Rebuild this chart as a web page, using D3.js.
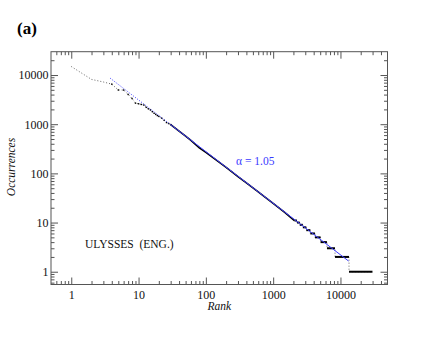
<!DOCTYPE html>
<html>
<head>
<meta charset="utf-8">
<script src="https://cdn.jsdelivr.net/npm/d3@7"></script>
<style>
  body { margin: 0; background: #fff; }
</style>
</head>
<body>
<div id="chart"></div>
<script>
// ---------------  DATA  ---------------
// top ranks, read point by point
const lowRanks = [1, 2, 3, 4, 5, 6, 7, 8, 9, 10, 11, 12, 13, 14, 15, 16, 17, 18, 19, 20, 22, 24, 26, 28, 30];
const lowOcc = [14900, 8140, 7220, 6520, 4960, 4950, 4030, 3330, 2680, 2600, 2520, 2450, 2200, 2050, 1950,
                1800, 1670, 1580, 1500, 1440, 1330, 1200, 1080, 1030, 984];
// middle part, dense enough to look like a solid line
const midRanks = [30, 40, 50, 60, 80, 100, 150, 200, 300, 400, 600, 800, 1000, 1500, 2070];
const midOcc = [984, 720, 570, 468, 330, 268, 178, 132, 86, 64, 42, 31, 24.5, 16, 11];
// the tail: plateaus of equal occurrences
const stepOcc = [11, 10, 9, 8, 7, 6, 5, 4, 3, 2, 1];
const stepStart = [2070, 2260, 2483, 2760, 3110, 3565, 4180, 5060, 6300, 8300, 13400];
const stepEnd = [2260, 2483, 2760, 3110, 3565, 4180, 5060, 6300, 8300, 13400, 29900];
// fitted power law (alpha = 1.05)
const fitRanks = [3.8, 30, 13200];
const fitOcc = [8600, 980, 1.65];

const xMajor = [1, 10, 100, 1000, 10000];
const yMajor = [1, 10, 100, 1000, 10000];

// ---------------  SIZES  ---------------
const w = 436, h = 337;
const padLeft = 51, padRight = 387.5, padTop = 51.7, padBottom = 284.5;
const serif = "Liberation Serif";

const x = d3.scaleLog().domain([0.5, 50000]).range([padLeft, padRight]);
const y = d3.scaleLog().domain([0.55, 29800]).range([padBottom, padTop]);

// minor ticks 2..9 of each decade inside the domain
function minors(scale) {
  const [a, b] = scale.domain();
  const out = [];
  for (let e = -1; e <= 5; e++) {
    for (let m = 2; m <= 9; m++) {
      const v = m * Math.pow(10, e);
      if (v > a && v < b) out.push(v);
    }
  }
  return out;
}

const svg = d3.select("#chart").append("svg").attr("width", w).attr("height", h)
  .attr("font-family", serif);

// ---------------  AXES  ---------------
const axisColor = "#555";
const fmt = d3.format("d");

function addAxis(gen, tx, ty, vals, size, labels) {
  const g = svg.append("g")
    .attr("transform", "translate(" + tx + "," + ty + ")")
    .call(gen.tickValues(vals).tickSizeInner(-size).tickSizeOuter(0)
      .tickPadding(labels ? 4 : 0).tickFormat(labels ? fmt : () => ""));
  g.attr("font-family", serif).attr("font-size", 12);
  g.select(".domain").remove();
  g.selectAll("line").attr("stroke", axisColor);
  g.selectAll("text").attr("fill", "#111");
  return g;
}

addAxis(d3.axisBottom(x), 0, padBottom, xMajor, 7, true).selectAll("text").attr("y", 6);
addAxis(d3.axisBottom(x), 0, padBottom, minors(x), 3.5, false);
addAxis(d3.axisTop(x), 0, padTop, xMajor, 7, false);
addAxis(d3.axisTop(x), 0, padTop, minors(x), 3.5, false);
addAxis(d3.axisLeft(y), padLeft, 0, yMajor, 7, true).selectAll("text").attr("x", -2.5);
addAxis(d3.axisLeft(y), padLeft, 0, minors(y), 3.5, false);
addAxis(d3.axisRight(y), padRight, 0, yMajor, 7, false);
addAxis(d3.axisRight(y), padRight, 0, minors(y), 3.5, false);

svg.append("rect")
  .attr("x", padLeft).attr("y", padTop)
  .attr("width", padRight - padLeft).attr("height", padBottom - padTop)
  .attr("fill", "none").attr("stroke", axisColor).attr("stroke-width", 1);

// ---------------  DATA MARKS  ---------------
const allPts = [];
lowRanks.forEach((r, i) => allPts.push([r, lowOcc[i]]));
midRanks.forEach((r, i) => allPts.push([r, midOcc[i]]));
stepOcc.forEach((o, i) => { allPts.push([stepStart[i], o]); allPts.push([stepEnd[i], o]); });

const line = d3.line().x(d => x(d[0])).y(d => y(d[1]));

svg.append("path") // dotted connection of all points
  .attr("d", line(allPts))
  .attr("fill", "none")
  .attr("stroke", "#666")
  .attr("stroke-width", 1)
  .attr("stroke-dasharray", "1,2");

svg.selectAll(".pt") // single points for the top ranks
  .data(lowRanks.slice(3))
  .enter()
  .append("rect")
  .attr("class", "pt")
  .attr("x", d => x(d) - 0.7)
  .attr("y", (d, i) => y(lowOcc[i + 3]) - 0.7)
  .attr("width", 1.4)
  .attr("height", 1.4)
  .attr("fill", "#000");

svg.append("path") // dense middle part
  .attr("d", line(midRanks.map((r, i) => [r, midOcc[i]])))
  .attr("fill", "none")
  .attr("stroke", "#000")
  .attr("stroke-width", 1.6);

svg.selectAll(".step") // plateaus
  .data(stepOcc)
  .enter()
  .append("line")
  .attr("class", "step")
  .attr("x1", (d, i) => x(stepStart[i]))
  .attr("x2", (d, i) => x(stepEnd[i]))
  .attr("y1", d => y(d))
  .attr("y2", d => y(d))
  .attr("stroke", "#000")
  .attr("stroke-width", 2);

// ---------------  FIT  ---------------
const blue = "#3a3aff";
svg.append("path")
  .attr("d", line([[fitRanks[0], fitOcc[0]], [fitRanks[1], fitOcc[1]]]))
  .attr("stroke", blue).attr("stroke-width", 1)
  .attr("stroke-dasharray", "1,1.6").attr("fill", "none");
svg.append("path")
  .attr("d", line([[fitRanks[1], fitOcc[1]], [fitRanks[2], fitOcc[2]]]))
  .attr("stroke", blue).attr("stroke-width", 1).attr("fill", "none");

// ---------------  TEXTS  ---------------
function label(tx, ty, str, size) {
  return svg.append("text")
    .attr("x", tx).attr("y", ty)
    .attr("fill", "#111")
    .attr("font-family", serif)
    .attr("font-size", size)
    .text(str);
}

label(236, 164.5, "\u03b1 = 1.05", 11.5).attr("fill", blue);
label(85, 248, "ULYSSES  (ENG.)", 11.5).attr("xml:space", "preserve").style("white-space", "pre");
label(17, 34, "(a)", 17).attr("fill", "#000").attr("font-weight", "bold");
label((padLeft + padRight) / 2, 310, "Rank", 11.5)
  .attr("text-anchor", "middle").attr("font-style", "italic");
label(-167, 15, "Occurrences", 11.5)
  .attr("transform", "rotate(-90)")
  .attr("text-anchor", "middle").attr("font-style", "italic");
</script>
</body>
</html>
